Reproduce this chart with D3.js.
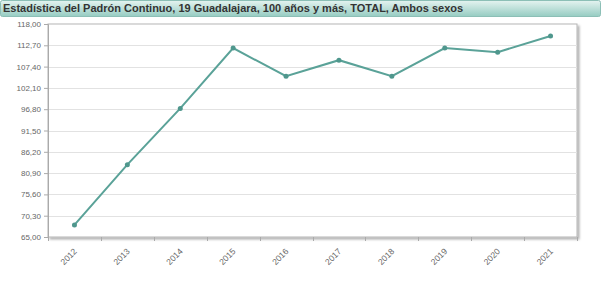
<!DOCTYPE html>
<html>
<head>
<meta charset="utf-8">
<script src="https://cdn.jsdelivr.net/npm/d3@7"></script>
<style>
  body { margin: 0; background: #fff; font-family: "Liberation Sans", Arial, sans-serif; }
  .axis text { fill: #666; font-size: 8px; }
  .axis path, .axis line { stroke: #aaa; }
</style>
</head>
<body>
<div id="content"></div>
<script>
const w = 610
const h = 298

// data
const years = ["2012","2013","2014","2015","2016","2017","2018","2019","2020","2021"]
const values = [68, 83, 97, 112, 105, 109, 105, 112, 111, 115]
const yTicks = [65, 70.3, 75.6, 80.9, 86.2, 91.5, 96.8, 102.1, 107.4, 112.7, 118]
const title = "Estadística del Padrón Continuo, 19 Guadalajara, 100 años y más, TOTAL, Ambos sexos"

const mLeft = 48, mRight = 577, mTop = 24, mBottom = 237

let svg = d3.select("#content")
  .append("svg")
  .attr("width", w)
  .attr("height", h)

let defs = svg.append("defs")
let grad = defs.append("linearGradient").attr("id", "tgrad")
  .attr("x1", 0).attr("y1", 0).attr("x2", 0).attr("y2", 1)
grad.append("stop").attr("offset", "0%").attr("stop-color", "#e4f3f0")
grad.append("stop").attr("offset", "100%").attr("stop-color", "#96ccc2")

let shadow = defs.append("filter").attr("id", "shadow")
  .attr("x", "-5%").attr("y", "-5%").attr("width", "110%").attr("height", "110%")
shadow.append("feDropShadow").attr("dx", 2).attr("dy", 2).attr("stdDeviation", 1)
  .attr("flood-color", "#000").attr("flood-opacity", 0.3)

// title bar
svg.append("rect")
  .attr("x", 0.5).attr("y", 0.5).attr("width", 600).attr("height", 16)
  .attr("rx", 2)
  .attr("fill", "url(#tgrad)")
  .attr("stroke", "#8cbfb6")
svg.append("text")
  .attr("x", 3).attr("y", 12)
  .attr("font-size", "11px")
  .attr("font-weight", "bold")
  .attr("fill", "#333")
  .text(title)

let x = d3.scaleBand()
  .domain(years)
  .range([mLeft, mRight])

let y = d3.scaleLinear()
  .domain([65, 118])
  .range([mBottom, mTop])

// plot frame
svg.append("rect")
  .attr("x", mLeft).attr("y", mTop)
  .attr("width", mRight - mLeft).attr("height", mBottom - mTop)
  .attr("fill", "#fff")
  .attr("stroke", "#b5b5b5")
  .attr("filter", "url(#shadow)")

// grid
svg.append("g")
  .selectAll("line")
  .data(yTicks.slice(1, -1))
  .enter()
  .append("line")
    .attr("x1", mLeft).attr("x2", mRight)
    .attr("y1", d => Math.round(y(d)) + 0.5)
    .attr("y2", d => Math.round(y(d)) + 0.5)
    .attr("stroke", "#e2e2e2")

const fmt = d => d.toFixed(2).replace(".", ",")

svg.append("g")
  .attr("class", "axis")
  .attr("transform", "translate(" + mLeft + ",0)")
  .call(d3.axisLeft(y).tickValues(yTicks).tickFormat(fmt).tickSize(4).tickPadding(3))
  .call(g => g.select(".domain").attr("stroke", "#aaa"))

let xa = svg.append("g")
  .attr("class", "axis")
  .attr("transform", "translate(0," + mBottom + ")")
  .call(d3.axisBottom(x).tickSize(0))
xa.select(".domain").remove()
xa.selectAll("text")
  .attr("text-anchor", "end")
  .attr("x", 0).attr("y", 0).attr("dy", 0)
  .attr("transform", "translate(3,15) rotate(-45)")
  .style("font-size", "8.5px")

// tick marks at band edges
svg.append("g")
  .selectAll("line")
  .data(years.concat(["end"]))
  .enter()
  .append("line")
    .attr("x1", (d, i) => Math.round(mLeft + i * x.bandwidth()) + 0.5)
    .attr("x2", (d, i) => Math.round(mLeft + i * x.bandwidth()) + 0.5)
    .attr("y1", mBottom).attr("y2", mBottom + 4)
    .attr("stroke", "#aaa")

let line = d3.line()
  .x((d, i) => x(years[i]) + x.bandwidth() / 2)
  .y(d => y(d))

svg.append("path")
  .datum(values)
  .attr("d", line)
  .attr("fill", "none")
  .attr("stroke", "#5aa298")
  .attr("stroke-width", 2)

svg.selectAll("circle.pt")
  .data(values)
  .enter()
  .append("circle")
    .attr("class", "pt")
    .attr("cx", (d, i) => x(years[i]) + x.bandwidth() / 2)
    .attr("cy", d => y(d))
    .attr("r", 2.5)
    .attr("fill", "#4f978d")
</script>
</body>
</html>
